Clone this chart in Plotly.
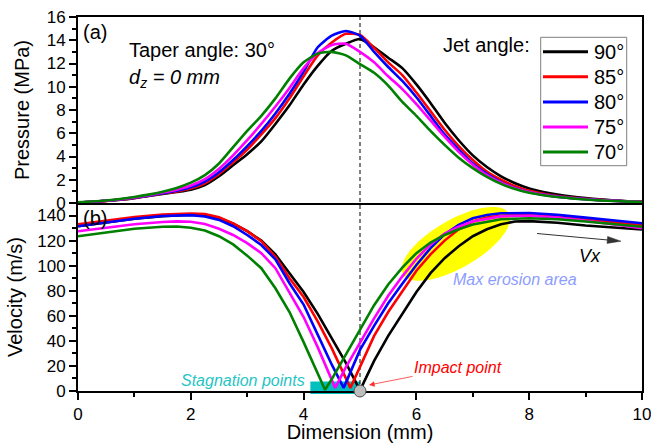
import math
import plotly.graph_objects as go

FONT = "Liberation Sans, Arial, sans-serif"

# ---- data -------------------------------------------------------------
JET_ANGLES = ["90°", "85°", "80°", "75°", "70°"]
LINE_COLORS = ["#000000", "#FF0000", "#0000FF", "#FF00FF", "#008000"]

# (a) surface pressure, MPa, sampled along the dimension axis (mm)
P_X = [0, 0.25, 0.5, 0.75, 1, 1.25, 1.5, 1.75, 2, 2.25, 2.5, 2.75, 3, 3.25,
       3.5, 3.75, 4, 4.25, 4.5, 4.75, 5, 5.25, 5.5, 5.75, 6, 6.25, 6.5, 6.75,
       7, 7.25, 7.5, 7.75, 8, 8.25, 8.5, 8.75, 9, 9.25, 9.5, 9.75, 10]
P_90 = [0.05, 0.1, 0.18, 0.28, 0.42, 0.6, 0.78, 0.95, 1.15, 1.55, 2.3, 3.25,
        4.2, 5.3, 6.8, 8.4, 10.2, 11.8, 13.1, 13.7, 14.1, 13.4, 12.5, 11.6,
        10.2, 8.6, 6.9, 5.4, 4.1, 3.1, 2.3, 1.7, 1.25, 0.95, 0.72, 0.55, 0.42,
        0.32, 0.22, 0.15, 0.1]
P_85 = [0.05, 0.1, 0.18, 0.29, 0.44, 0.62, 0.82, 1.0, 1.25, 1.7, 2.5, 3.5,
        4.6, 5.9, 7.3, 9.0, 10.9, 12.7, 13.8, 14.55, 14.45, 13.35, 12.1, 11.0,
        9.5, 7.9, 6.3, 4.9, 3.7, 2.7, 2.0, 1.45, 1.05, 0.8, 0.6, 0.46, 0.36,
        0.27, 0.2, 0.14, 0.1]
P_80 = [0.05, 0.1, 0.19, 0.3, 0.45, 0.63, 0.84, 1.05, 1.35, 1.85, 2.65, 3.7,
        4.9, 6.2, 7.7, 9.4, 11.3, 13.4, 14.4, 14.8, 14.4, 13.0, 11.7, 10.5,
        9.1, 7.5, 5.9, 4.6, 3.4, 2.5, 1.8, 1.3, 0.95, 0.72, 0.55, 0.43, 0.33,
        0.25, 0.19, 0.13, 0.09]
P_75 = [0.06, 0.11, 0.2, 0.32, 0.48, 0.67, 0.9, 1.15, 1.5, 2.05, 2.95, 4.1,
        5.4, 6.8, 8.3, 9.9, 11.6, 12.9, 13.6, 13.7, 13.0, 12.1, 10.9, 9.8,
        8.5, 7.1, 5.7, 4.4, 3.3, 2.4, 1.75, 1.28, 0.94, 0.71, 0.54, 0.42, 0.32,
        0.25, 0.18, 0.13, 0.09]
P_70 = [0.07, 0.13, 0.22, 0.35, 0.52, 0.72, 0.97, 1.3, 1.75, 2.4, 3.4, 4.8,
        6.2, 7.5, 9.0, 10.7, 12.1, 12.85, 13.0, 12.7, 11.95, 11.2, 10.1, 8.7,
        7.5, 6.2, 5.0, 3.9, 3.0, 2.25, 1.65, 1.2, 0.88, 0.67, 0.51, 0.4, 0.3,
        0.23, 0.17, 0.12, 0.08]

# (b) velocity, m/s; each jet angle has its own stagnation point
V_90_X = [0, 0.5, 1, 1.5, 2, 2.25, 2.5, 2.75, 3, 3.25, 3.5, 3.75, 4, 4.25,
          4.5, 4.75, 5.0, 5.25, 5.5, 5.75, 6, 6.25, 6.5, 6.75, 7, 7.25, 7.5,
          7.75, 8, 8.5, 9, 9.5, 10]
V_90 = [131.5, 134.5, 137.5, 139.5, 140.6, 140.2, 138, 133.5, 127.5, 120, 109,
        94, 79, 61.5, 42.5, 22.5, 0.5, 24, 44, 62, 79, 94, 106, 115.5, 123.5,
        129, 133, 135.2, 135.5, 134.3, 132, 130.4, 128.8]
V_85_X = [0, 0.5, 1, 1.5, 2, 2.25, 2.5, 2.75, 3, 3.25, 3.5, 3.75, 4, 4.25,
          4.5, 4.83, 5.0, 5.25, 5.5, 5.75, 6, 6.25, 6.5, 6.75, 7, 7.25, 7.5,
          8, 8.5, 9, 9.5, 10]
V_85 = [133, 135.8, 138.8, 140.8, 141.6, 141.2, 138.6, 133.8, 127.5, 119.5,
        107, 90, 75, 55.5, 34, 2.5, 19, 44, 63, 79, 96, 109, 120, 129, 135.3,
        138.5, 139.8, 140.2, 139.2, 136.7, 134.3, 132.2]
V_80_X = [0, 0.5, 1, 1.5, 2, 2.25, 2.5, 2.75, 3, 3.25, 3.5, 3.75, 4, 4.25,
          4.5, 4.71, 5.0, 5.25, 5.5, 5.75, 6, 6.25, 6.5, 6.75, 7, 7.25, 7.5,
          8, 8.5, 9, 9.5, 10]
V_80 = [131.5, 134.5, 137.5, 139.6, 140.3, 139.2, 136.5, 131.5, 124.5, 116.5,
        105, 86, 69, 45, 21, 2.5, 32.8, 52, 70, 85.5, 100.5, 114, 125, 132.5,
        137.8, 140.5, 141.8, 142, 140.5, 138.3, 136, 133.8]
V_75_X = [0, 0.5, 1, 1.5, 1.75, 2, 2.25, 2.5, 2.75, 3, 3.25, 3.5, 3.75, 4,
          4.25, 4.56, 4.75, 5.0, 5.25, 5.5, 5.75, 6, 6.25, 6.5, 6.75, 7, 7.5,
          8, 8.5, 9, 9.5, 10]
V_75 = [127.5, 130.2, 133, 134.8, 135.3, 135, 133.2, 129.5, 124.5, 118, 110,
        98, 79, 59, 35, 2.5, 19, 38.5, 58, 76, 91.5, 105.5, 117, 125.5, 131,
        135.3, 139.3, 139.8, 138.3, 135.8, 132.7, 129.8]
V_70_X = [0, 0.5, 1, 1.5, 1.75, 2, 2.25, 2.5, 2.75, 3, 3.25, 3.5, 3.75, 4,
          4.25, 4.38, 4.5, 4.75, 5.0, 5.25, 5.5, 5.75, 6, 6.25, 6.5, 6.75, 7,
          7.5, 8, 8.5, 9, 9.5, 10]
V_70 = [123.5, 126.5, 129.5, 131, 131.2, 130.3, 128, 123.5, 117, 108, 98, 82,
        63, 39, 14, 1, 9.5, 29, 48, 68.5, 85, 98.5, 110, 118.5, 124.5, 129,
        132.8, 137, 137.8, 137, 135.2, 133, 131]

PRESSURE = [P_90, P_85, P_80, P_75, P_70]
VELOCITY = [(V_90_X, V_90), (V_85_X, V_85), (V_80_X, V_80),
            (V_75_X, V_75), (V_70_X, V_70)]

IMPACT_X = 5.0
STAGNATION_SPAN = (4.12, 5.0)

# ---- geometry ---------------------------------------------------------
W, H = 651, 443
ML, MR, MT, MB = 78, 9, 17, 52
PW, PH = W - ML - MR, H - MT - MB
SPLIT = 188 / PH          # boundary between panel (b) below and (a) above
X_RANGE = (0, 10)
P_RANGE = (0, 16)
V_RANGE = (0, 150)


def xp(x):
    return (x - X_RANGE[0]) / (X_RANGE[1] - X_RANGE[0])


def yp_bot(v):
    return (v - V_RANGE[0]) / (V_RANGE[1] - V_RANGE[0]) * SPLIT


def px_x(px):
    """page pixel column -> paper x"""
    return (px - ML) / PW


def px_y(py):
    """page pixel row -> paper y"""
    return (H - MB - py) / PH


def ellipse_path(cx, cy, a_px, b_px, angle_deg, n=90):
    th = math.radians(angle_deg)
    pts = []
    for k in range(n):
        t = 2 * math.pi * k / n
        dx = a_px * math.cos(t) * math.cos(th) - b_px * math.sin(t) * math.sin(th)
        dy = a_px * math.cos(t) * math.sin(th) + b_px * math.sin(t) * math.cos(th)
        pts.append((cx + dx / PW, cy + dy / PH))
    return "M " + " L ".join(f"{x:.5f},{y:.5f}" for x, y in pts) + " Z"


fig = go.Figure()

for name, color, p in zip(JET_ANGLES, LINE_COLORS, PRESSURE):
    fig.add_trace(go.Scatter(x=P_X, y=p, mode="lines", name=name,
                             line=dict(color=color, width=2.6,
                                       shape="spline", smoothing=0.6),
                             xaxis="x", yaxis="y"))

for name, color, (vx, v) in zip(JET_ANGLES, LINE_COLORS, VELOCITY):
    fig.add_trace(go.Scatter(x=vx, y=v, mode="lines", name=name,
                             line=dict(color=color, width=2.6),
                             xaxis="x2", yaxis="y2"))

tick_font = dict(family=FONT, size=17, color="black")
title_font = dict(family=FONT, size=20, color="black")
axis_common = dict(showline=True, linecolor="black", linewidth=2,
                   showgrid=False, zeroline=False, tickfont=tick_font,
                   tickcolor="black", tickwidth=1.5)

fig.update_layout(
    width=W, height=H,
    margin=dict(l=ML, r=MR, t=MT, b=MB, autoexpand=False),
    paper_bgcolor="white", plot_bgcolor="white",
    font=dict(family=FONT, color="black"),
    showlegend=False,
    xaxis=dict(domain=[0, 1], anchor="y", range=list(X_RANGE), mirror=True,
               ticks="", showticklabels=False, **axis_common),
    yaxis=dict(domain=[SPLIT, 1], anchor="x", range=list(P_RANGE), mirror=True,
               ticks="outside", ticklen=7, dtick=2, tick0=0,
               minor=dict(ticks="outside", ticklen=4, dtick=1, tickcolor="black"),
               title=dict(text="Pressure (MPa)", font=title_font, standoff=12),
               **axis_common),
    xaxis2=dict(domain=[0, 1], anchor="y2", range=list(X_RANGE), matches="x",
                mirror=False, ticks="outside", ticklen=7, dtick=2, tick0=0,
                ticklabeloverflow="allow",
                minor=dict(ticks="outside", ticklen=4, dtick=1, tickcolor="black"),
                title=dict(text="Dimension (mm)", font=title_font, standoff=5),
                **axis_common),
    yaxis2=dict(domain=[0, SPLIT], anchor="x2", range=list(V_RANGE), mirror=True,
                ticks="outside", ticklen=7, dtick=20, tick0=0,
                minor=dict(ticks="outside", ticklen=4, dtick=10, tickcolor="black"),
                title=dict(text="Velocity (m/s)", font=title_font, standoff=9),
                **axis_common),
)

shapes = [
    # highlighted region of maximum erosion
    dict(type="path", xref="paper", yref="paper", layer="below",
         path=ellipse_path(xp(6.7), yp_bot(117.4), 61, 24, 30),
         fillcolor="#FFFF00", line=dict(width=0)),
    # stagnation points band
    dict(type="rect", xref="paper", yref="paper", layer="below",
         x0=xp(STAGNATION_SPAN[0]), x1=xp(STAGNATION_SPAN[1]),
         y0=yp_bot(-2.4), y1=yp_bot(7.5),
         fillcolor="#00BFBF", line=dict(width=0)),
    # impact line through both panels
    dict(type="line", xref="x", yref="paper", layer="below",
         x0=IMPACT_X, x1=IMPACT_X, y0=0, y1=1,
         line=dict(color="black", width=1, dash="4px,3px")),
    # impact point marker
    dict(type="circle", xref="paper", yref="paper", layer="above",
         xsizemode="pixel", ysizemode="pixel",
         xanchor=xp(IMPACT_X), yanchor=yp_bot(0),
         x0=-6, x1=6, y0=-6, y1=6,
         fillcolor="#BDBDBD", line=dict(color="#505050", width=1)),
    # flow direction arrow (shaft and head)
    dict(type="line", xref="paper", yref="paper",
         x0=px_x(537), y0=px_y(233.5), x1=px_x(610), y1=px_y(240.2),
         line=dict(color="#333333", width=1)),
    dict(type="path", xref="paper", yref="paper",
         path=(f"M {px_x(621):.5f},{px_y(241.2):.5f} "
               f"L {px_x(607.6):.5f},{px_y(236.4):.5f} "
               f"L {px_x(607.0):.5f},{px_y(243.4):.5f} Z"),
         fillcolor="#333333", line=dict(color="#333333", width=0.5)),
    # legend frame
    dict(type="rect", xref="paper", yref="paper",
         x0=px_x(540.7), x1=px_x(626.7), y0=px_y(165.7), y1=px_y(37.3),
         fillcolor="rgba(0,0,0,0)", line=dict(color="#7f7f7f", width=1)),
]

annotations = []
LEGEND_ROWS = [51.7, 76.8, 101.9, 127.0, 152.1]
for name, color, row in zip(JET_ANGLES, LINE_COLORS, LEGEND_ROWS):
    shapes.append(dict(type="line", xref="paper", yref="paper",
                       x0=px_x(543), x1=px_x(588), y0=px_y(row), y1=px_y(row),
                       line=dict(color=color, width=3)))
    annotations.append(dict(text=name, x=px_x(592), y=px_y(row),
                            xref="paper", yref="paper", xanchor="left",
                            yanchor="middle", showarrow=False,
                            font=dict(family=FONT, size=20, color="black")))

fig.update_layout(shapes=shapes)

annotations += [
    dict(text="(a)", x=0.3, y=14.7, xref="x", yref="y", showarrow=False,
         font=dict(family=FONT, size=20)),
    dict(text="(b)", x=0.3, y=138.4, xref="x2", yref="y2", showarrow=False,
         font=dict(family=FONT, size=20)),
    dict(text="Taper angle: 30°", x=0.87, y=13.16, xref="x", yref="y",
         xanchor="left", showarrow=False, font=dict(family=FONT, size=20)),
    dict(text="<i>d</i><sub><i>z</i></sub><i> = 0 mm</i>", x=0.87, y=10.7,
         xref="x", yref="y", xanchor="left", showarrow=False,
         font=dict(family=FONT, size=20)),
    dict(text="Jet angle:", x=8.05, y=13.55, xref="x", yref="y",
         xanchor="right", showarrow=False, font=dict(family=FONT, size=20)),
    dict(text="<i>Stagnation points</i>", x=2.92, y=8.4, xref="x2", yref="y2",
         showarrow=False, font=dict(family=FONT, size=16, color="#1FC4C4")),
    dict(text="<i>Max erosion area</i>", x=7.75, y=88.8, xref="x2", yref="y2",
         showarrow=False, font=dict(family=FONT, size=16, color="#8C9CFF")),
    dict(text="<i>Vx</i>", x=9.07, y=108, xref="x2", yref="y2",
         showarrow=False, font=dict(family=FONT, size=18, color="black")),
    dict(text="<i>Impact point</i>", x=5.16, y=4.8, xref="x2", yref="y2",
         showarrow=True, ax=89, ay=-17.5, arrowhead=2, arrowsize=1.4,
         arrowwidth=0.8, arrowcolor="#FF3030",
         font=dict(family=FONT, size=16, color="#FF0000")),
]
fig.update_layout(annotations=annotations)

fig.write_html("out.html")
